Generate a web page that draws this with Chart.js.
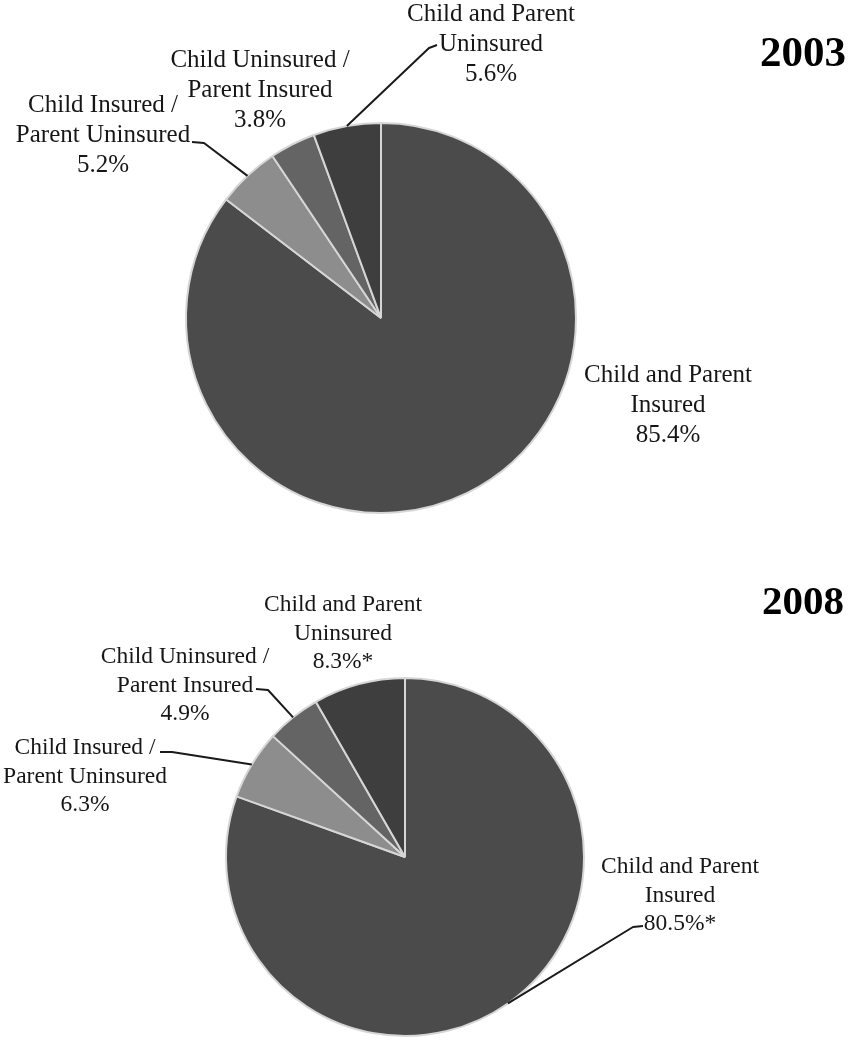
<!DOCTYPE html>
<html>
<head>
<meta charset="utf-8">
<script src="https://cdn.jsdelivr.net/npm/chart.js@4.4.1/dist/chart.umd.min.js"></script>
<style>
  html, body { margin: 0; padding: 0; background: #ffffff; }
  #wrap { position: relative; width: 849px; height: 1050px; overflow: hidden; }
  .box { position: absolute; left: 0; width: 849px; }
  #box1 { top: 0; height: 540px; }
  #box2 { top: 540px; height: 510px; }
</style>
</head>
<body>
<div id="wrap">
  <div class="box" id="box1"><canvas id="c1" width="849" height="540"></canvas></div>
  <div class="box" id="box2"><canvas id="c2" width="849" height="510"></canvas></div>
</div>
<script>
// ---- data ----
const categories = [
  'Child and Parent Insured',
  'Child Insured / Parent Uninsured',
  'Child Uninsured / Parent Insured',
  'Child and Parent Uninsured'
];
const labelLines = [
  ['Child and Parent', 'Insured'],
  ['Child Insured /', 'Parent Uninsured'],
  ['Child Uninsured /', 'Parent Insured'],
  ['Child and Parent', 'Uninsured']
];
const years = ['2003', '2008'];
const values2003 = [85.4, 5.2, 3.8, 5.6];
const values2008 = [80.5, 6.3, 4.9, 8.3];
const marks2003 = ['', '', '', ''];
const marks2008 = ['*', '', '', '*'];
const sliceColors = ['#4b4b4b', '#8d8d8d', '#646464', '#3e3e3e'];

// ---- label plugin ----
const pieLabels = {
  id: 'pieLabels',
  afterDraw(chart, args, opts) {
    const ctx = chart.ctx;
    const meta = chart.getDatasetMeta(0);
    const vals = chart.data.datasets[0].data;
    ctx.save();
    ctx.fillStyle = '#161616';
    ctx.strokeStyle = '#1a1a1a';
    ctx.lineWidth = 2;
    ctx.lineJoin = 'round';
    ctx.textAlign = 'center';
    ctx.textBaseline = 'middle';
    ctx.font = opts.fontSize + 'px "Liberation Serif", "Times New Roman", serif';
    meta.data.forEach((arc, i) => {
      const p = arc.getProps(['x', 'y', 'startAngle', 'endAngle', 'outerRadius'], true);
      const mid = (p.startAngle + p.endAngle) / 2;
      const ex = p.x + Math.cos(mid) * p.outerRadius;
      const ey = p.y + Math.sin(mid) * p.outerRadius;
      const leader = opts.leaders[i];
      if (leader) {
        ctx.beginPath();
        ctx.moveTo(leader[0][0], leader[0][1]);
        for (let k = 1; k < leader.length; k++) ctx.lineTo(leader[k][0], leader[k][1]);
        ctx.lineTo(ex, ey);
        ctx.stroke();
      }
      const a = opts.anchors[i];
      const lines = labelLines[i].concat([vals[i].toFixed(1) + '%' + opts.marks[i]]);
      lines.forEach((t, k) => ctx.fillText(t, a[0], a[1] + k * opts.lineHeight));
    });
    ctx.font = 'bold ' + opts.titleSize + 'px "Liberation Serif", "Times New Roman", serif';
    ctx.textAlign = 'right';
    ctx.fillStyle = '#000000';
    ctx.fillText(opts.title, opts.titlePos[0], opts.titlePos[1]);
    ctx.restore();
  }
};

function makePie(id, values, padding, labelOpts) {
  return new Chart(document.getElementById(id), {
    type: 'pie',
    data: {
      labels: categories,
      datasets: [{
        data: values,
        backgroundColor: sliceColors,
        borderColor: '#d6d6d6',
        borderWidth: 2
      }]
    },
    options: {
      responsive: false,
      animation: false,
      layout: { padding: padding },
      plugins: {
        legend: { display: false },
        tooltip: { enabled: false },
        pieLabels: labelOpts
      }
    },
    plugins: [pieLabels]
  });
}

makePie('c1', values2003, { left: 185, right: 272, top: 122, bottom: 26 }, {
  title: years[0], titlePos: [846, 55], titleSize: 43,
  fontSize: 25, lineHeight: 30, marks: marks2003,
  anchors: [[668, 375], [103, 105], [260, 60], [491, 14]],
  leaders: [null, [[192, 142], [204, 143]], null, [[437, 45], [429, 48]]]
});

makePie('c2', values2008, { left: 225, right: 264, top: 137, bottom: 13 }, {
  title: years[1], titlePos: [844, 63], titleSize: 41,
  fontSize: 23.5, lineHeight: 28.5, marks: marks2008,
  anchors: [[680, 327], [85, 208], [185, 117], [343, 65]],
  leaders: [[[643, 386], [633, 387]], [[160, 212], [172, 212]], [[256, 149], [268, 150]], null]
});
</script>
</body>
</html>
